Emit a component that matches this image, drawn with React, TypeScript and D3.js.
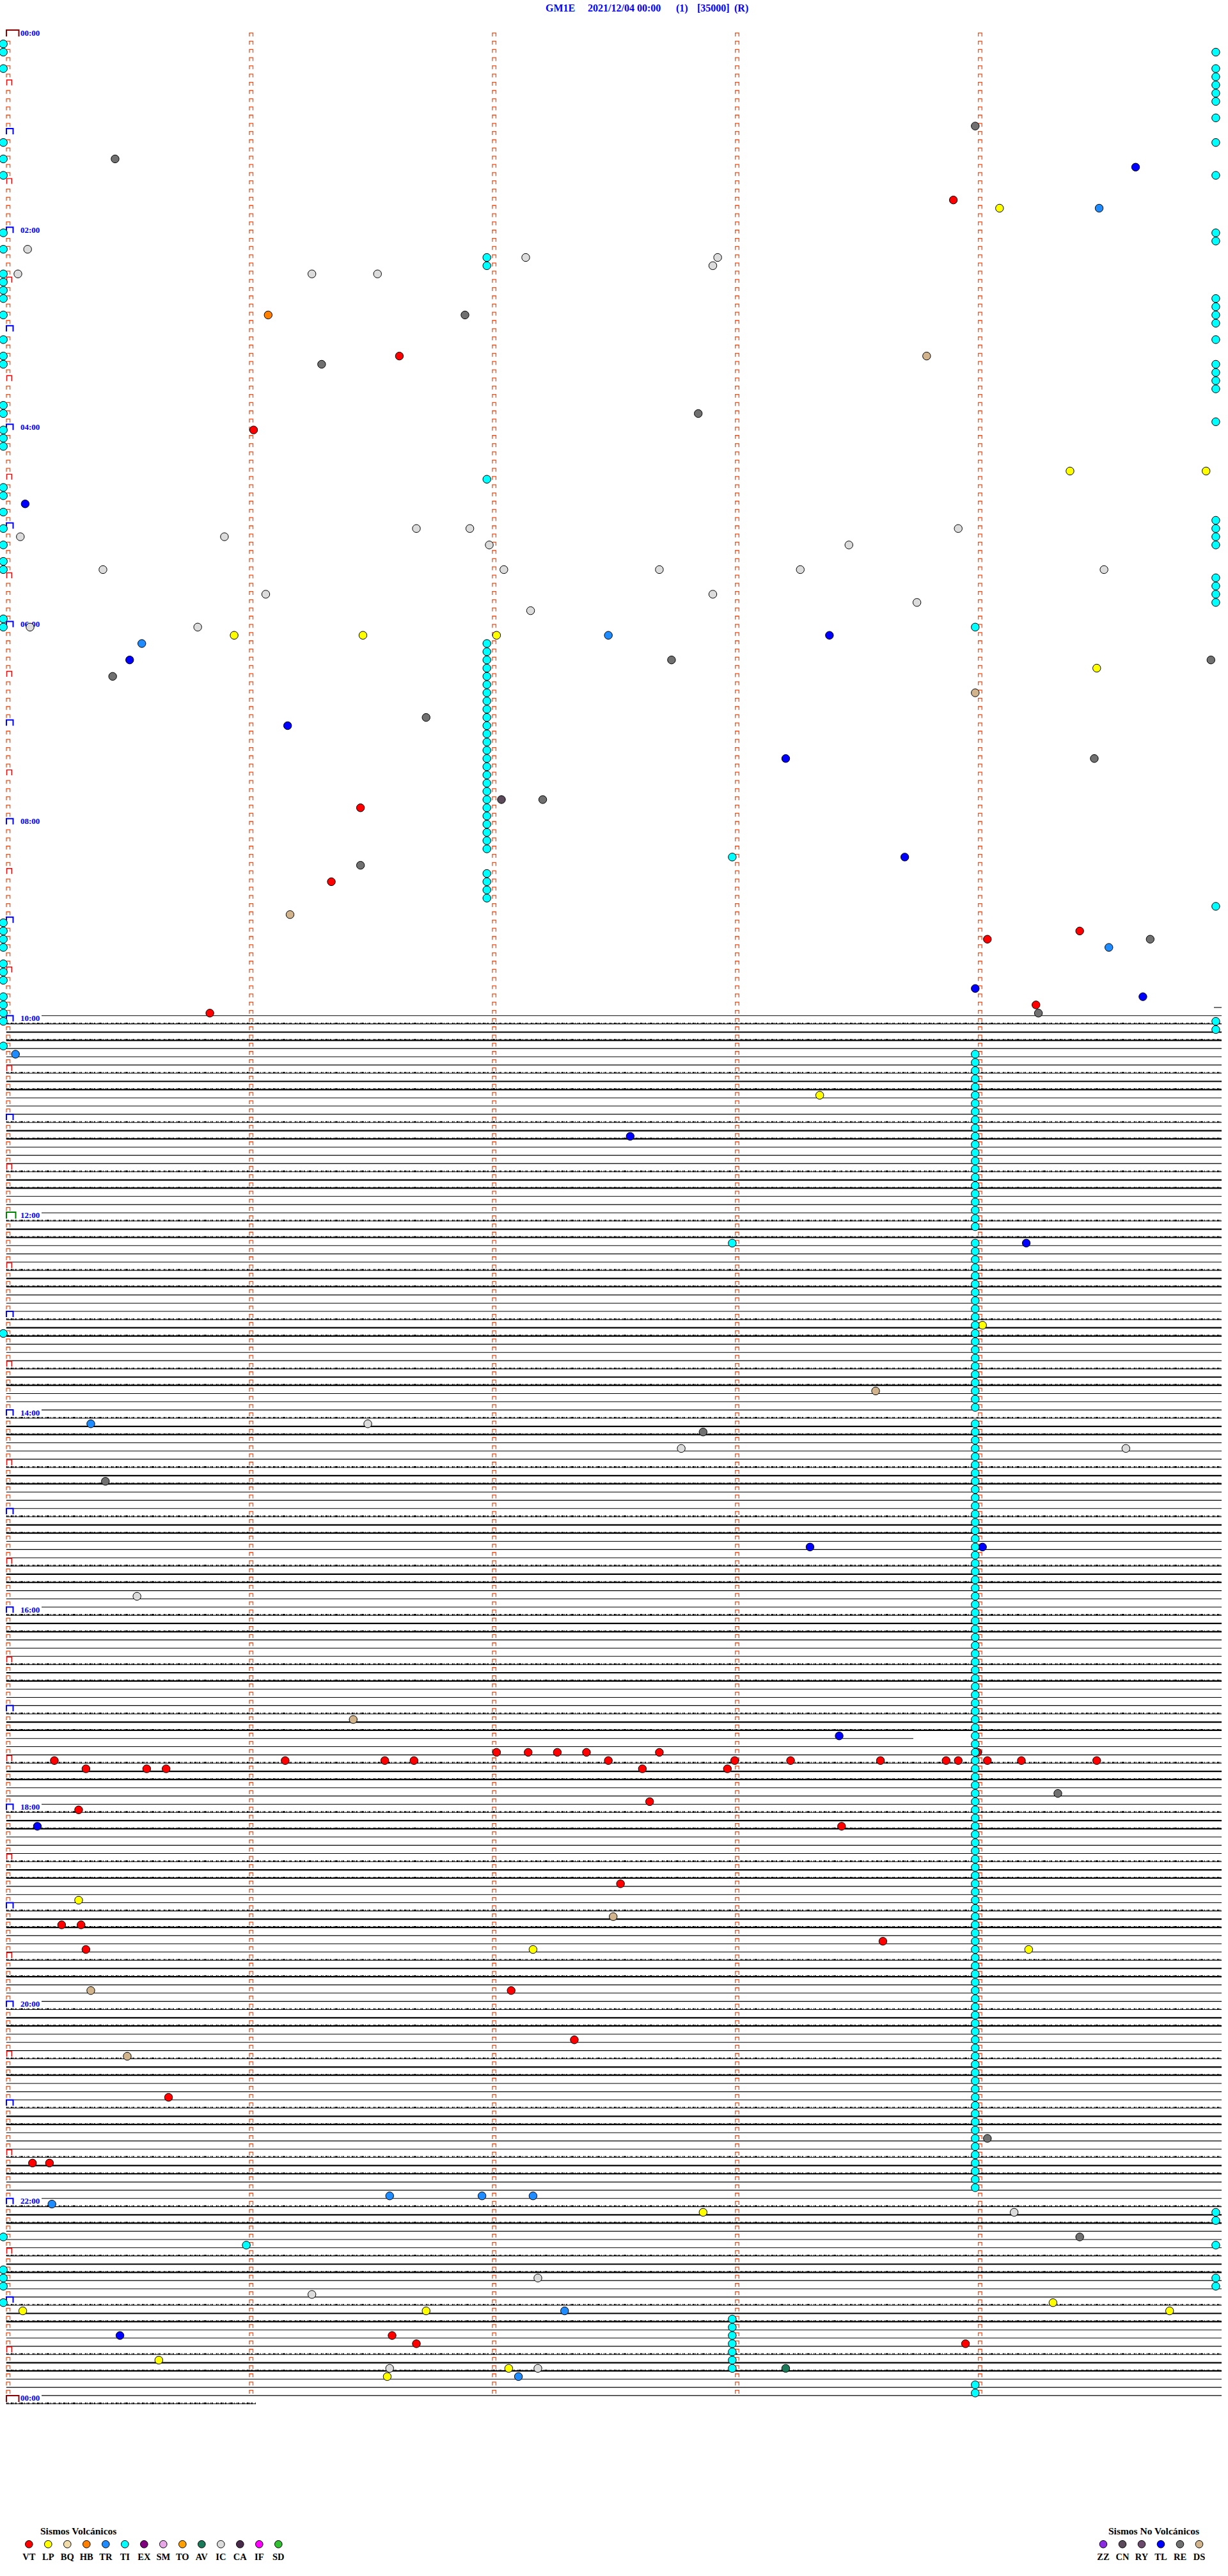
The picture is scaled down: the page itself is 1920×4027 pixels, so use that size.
import React from "react";
import * as d3 from "d3";

// ---------- DATA ----------
const HEADER = ["GM1E", "2021/12/04 00:00", "(1)", "[35000]", "(R)"];
const HEADER_X = [853, 919, 1057, 1090, 1148];

const VOLC_TYPES = ["VT", "LP", "BQ", "HB", "TR", "TI", "EX", "SM", "TO", "AV", "IC", "CA", "IF", "SD"];
const VOLC_COLORS = ["#ff0000", "#ffff00", "#efdca8", "#ff8000", "#1e8cff", "#00ffff", "#800080", "#e8a8e8", "#ffa000", "#1a7a5a", "#dcdcdc", "#4a2a4a", "#ff00ff", "#30c030"];
const NONVOLC_TYPES = ["ZZ", "CN", "RY", "TL", "RE", "DS"];
const NONVOLC_COLORS = ["#8a2be2", "#5a4a5a", "#6a4a6a", "#0000ff", "#707070", "#d2b48c"];

const HOUR_LABELS = ["00:00", "02:00", "04:00", "06:00", "08:00", "10:00", "12:00", "14:00", "16:00", "18:00", "20:00", "22:00", "00:00"];

// rows are 5-minute lines (0 = 00:00, 288 = 24:00); minute is position inside a row (0..5)
const TRACE_FIRST_ROW = 120;
const TRACE_LAST_ROW = 288;

// isolated events: [type, row, minute]
const EVENTS: [string, number, number][] = [
  ["RE", 16, 0.44], ["RE", 12, 3.98], ["TL", 17, 4.64], ["VT", 21, 3.89], ["LP", 22, 4.08], ["TR", 22, 4.49],
  ["IC", 27, 0.08], ["IC", 30, 0.04], ["TI", 28, 1.97], ["TI", 29, 1.97], ["IC", 28, 2.13], ["IC", 28, 2.92],
  ["IC", 29, 2.90], ["IC", 30, 1.25], ["IC", 30, 1.52], ["HB", 35, 1.07], ["RE", 35, 1.88], ["VT", 40, 1.61],
  ["RE", 41, 1.29], ["DS", 40, 3.78], ["RE", 47, 2.84], ["VT", 49, 1.01], ["LP", 54, 4.37], ["LP", 54, 4.93],
  ["TI", 55, 1.97], ["TL", 58, 0.07], ["IC", 62, 0.05], ["IC", 62, 0.89], ["IC", 61, 1.68], ["IC", 61, 1.90],
  ["IC", 63, 1.98], ["IC", 63, 3.46], ["IC", 61, 3.91], ["IC", 66, 0.39], ["IC", 66, 2.04], ["IC", 66, 2.68],
  ["IC", 66, 3.26], ["IC", 66, 4.51], ["IC", 69, 1.06], ["IC", 69, 2.90], ["IC", 70, 3.74], ["IC", 71, 2.15],
  ["IC", 73, 0.09], ["IC", 73, 0.78], ["TR", 75, 0.55], ["LP", 74, 0.93], ["LP", 74, 1.46], ["LP", 74, 2.01],
  ["TR", 74, 2.47], ["TL", 74, 3.38], ["TI", 73, 3.98], ["TL", 77, 0.50], ["RE", 79, 0.43], ["RE", 77, 2.73],
  ["RE", 77, 4.95], ["LP", 78, 4.48], ["DS", 81, 3.98], ["TL", 85, 1.15], ["RE", 84, 1.72], ["RE", 89, 4.47],
  ["TL", 89, 3.20], ["CN", 94, 2.03], ["RE", 94, 2.20], ["VT", 95, 1.45], ["RE", 102, 1.45], ["VT", 104, 1.33],
  ["TI", 101, 2.98], ["TL", 101, 3.69], ["DS", 108, 1.16], ["VT", 111, 4.03], ["VT", 110, 4.41], ["TR", 112, 4.53],
  ["RE", 111, 4.70], ["TL", 117, 3.98], ["TL", 118, 4.67], ["VT", 119, 4.23], ["RE", 120, 4.24], ["VT", 120, 0.83],
  ["TR", 125, 0.03], ["LP", 130, 3.34], ["TL", 135, 2.56], ["TI", 148, 2.98], ["TL", 148, 4.19], ["LP", 158, 4.01],
  ["DS", 166, 3.57], ["TR", 170, 0.34], ["IC", 170, 1.48], ["RE", 171, 2.86], ["IC", 173, 2.77], ["IC", 173, 4.60],
  ["RE", 177, 0.40], ["TL", 185, 3.30], ["TL", 185, 4.01], ["IC", 191, 0.53], ["DS", 206, 1.42], ["TL", 208, 3.42],
  ["VT", 210, 3.99],
  ["VT", 211, 0.19], ["VT", 211, 1.14], ["VT", 211, 1.55], ["VT", 211, 1.67], ["VT", 210, 2.01], ["VT", 210, 2.14],
  ["VT", 210, 2.26], ["VT", 210, 2.38], ["VT", 211, 2.47], ["VT", 210, 2.68], ["VT", 211, 2.99], ["VT", 211, 3.22],
  ["VT", 211, 3.59], ["VT", 211, 3.86], ["VT", 211, 3.91], ["VT", 211, 4.03], ["VT", 211, 4.17], ["VT", 211, 4.48],
  ["VT", 212, 0.32], ["VT", 212, 0.57], ["VT", 212, 0.65], ["VT", 212, 2.61], ["VT", 212, 2.96],
  ["RE", 215, 4.32], ["VT", 216, 2.64], ["VT", 217, 0.29], ["TL", 219, 0.12], ["VT", 219, 3.43], ["VT", 226, 2.52],
  ["LP", 228, 0.29], ["DS", 230, 2.49], ["VT", 231, 0.22], ["VT", 231, 0.30], ["VT", 233, 3.60], ["VT", 234, 0.32],
  ["LP", 234, 2.16], ["LP", 234, 4.20], ["DS", 239, 0.34], ["VT", 239, 2.07], ["VT", 245, 2.33], ["DS", 247, 0.49],
  ["VT", 252, 0.66], ["RE", 257, 4.03], ["VT", 260, 0.10], ["VT", 260, 0.17], ["TR", 264, 1.57], ["TR", 264, 1.95],
  ["TR", 264, 2.16], ["TR", 265, 0.18], ["LP", 266, 2.86], ["IC", 266, 4.14], ["RE", 269, 4.41], ["TI", 270, 0.98],
  ["IC", 274, 2.18], ["IC", 276, 1.25], ["LP", 278, 0.06], ["LP", 277, 4.30], ["LP", 278, 4.78], ["LP", 278, 1.72],
  ["TR", 278, 2.29], ["TL", 281, 0.46], ["VT", 281, 1.58], ["VT", 282, 1.68], ["VT", 282, 3.94], ["LP", 284, 0.62],
  ["IC", 285, 1.57], ["LP", 286, 1.56], ["LP", 285, 2.06], ["IC", 285, 2.18], ["TR", 286, 2.10], ["AV", 285, 3.20],
];

// tremor-like TI events stacked in columns (rows)
const TI_LEFT_ROWS = [2, 3, 5, 14, 16, 18, 25, 27, 30, 31, 32, 33, 35, 38, 40, 41, 46, 47, 49, 50, 51, 56, 57, 59, 61, 63, 65, 66, 72, 73, 109, 110, 111, 112, 114, 115, 116, 118, 119, 120, 121, 124, 159, 269, 273, 274, 275, 277];
const TI_RIGHT_ROWS = [3, 5, 6, 7, 8, 9, 11, 14, 18, 25, 26, 33, 34, 35, 36, 38, 41, 42, 43, 44, 48, 60, 61, 62, 63, 67, 68, 69, 70, 107, 121, 122, 266, 267, 270, 274, 275];
const TI_COL2_ROWS = [75, 76, 77, 78, 79, 80, 81, 82, 83, 84, 85, 86, 87, 88, 89, 90, 91, 92, 93, 94, 95, 96, 97, 98, 99, 100, 103, 104, 105, 106];
const TI_COL3_ROWS = [279, 280, 281, 282, 283, 284, 285];
const TI_COL4_ROWS = [
  125, 126, 127, 128, 129, 130, 131, 132, 133, 134, 135, 136, 137, 138, 139, 140, 141, 142, 143, 144, 145, 146,
  148, 149, 150, 151, 152, 153, 154, 155, 156, 157, 158, 159, 160, 161, 162, 163, 164, 165, 166, 167, 168,
  170, 171, 172, 173, 174, 175, 176, 177, 178, 179, 180, 181, 182, 183, 184, 185, 186, 187, 188, 189, 190, 191,
  192, 193, 194, 195, 196, 197, 198, 199, 200, 201, 202, 203, 204, 205, 206, 207, 208, 209, 210, 211, 212, 213,
  214, 215, 216, 217, 218, 219, 220, 221, 222, 223, 224, 225, 226, 227, 228, 229, 230, 231, 232, 233, 234, 235,
  236, 237, 238, 239, 240, 241, 242, 243, 244, 245, 246, 247, 248, 249, 250, 251, 252, 253, 254, 255, 256, 257,
  258, 259, 260, 261, 262, 263, 287, 288,
];
const TI_COL_MINUTES = { left: -0.02, right: 4.97, c2: 1.97, c3: 2.98, c4: 3.98 };

// ---------- COMPONENT ----------
const W = 1920;
const H = 4027;
const NOISE_DASH = "2 1 1 3 3 1 1 2 2 4 1 1 4 2 1 3 1 1 2 5";

export default function App() {
  const x = d3.scaleLinear().domain([0, 5]).range([12.8, 1912.3]);
  const y = d3.scaleLinear().domain([0, 288]).range([47, 47 + 288 * 12.84]);
  const colorOf: Record<string, string> = {};
  VOLC_TYPES.forEach((t, i) => (colorOf[t] = VOLC_COLORS[i]));
  NONVOLC_TYPES.forEach((t, i) => (colorOf[t] = NONVOLC_COLORS[i]));

  const allEvents: [string, number, number][] = [
    ...TI_LEFT_ROWS.map((r) => ["TI", r, TI_COL_MINUTES.left] as [string, number, number]),
    ...TI_RIGHT_ROWS.map((r) => ["TI", r, TI_COL_MINUTES.right] as [string, number, number]),
    ...TI_COL2_ROWS.map((r) => ["TI", r, TI_COL_MINUTES.c2] as [string, number, number]),
    ...TI_COL3_ROWS.map((r) => ["TI", r, TI_COL_MINUTES.c3] as [string, number, number]),
    ...EVENTS,
    ...TI_COL4_ROWS.map((r) => ["TI", r, TI_COL_MINUTES.c4] as [string, number, number]),
  ];

  const rows = d3.range(0, 289);
  const traceRows = d3.range(TRACE_FIRST_ROW, TRACE_LAST_ROW + 1);
  const xStart = x.range()[0] - 3;
  const xEnd = 1910;

  const segsFor = (r: number): [number, number][] => {
    const labeled = r % 24 === 0;
    const s = labeled ? 65 : xStart;
    if (r === 208) return [[s, 1428], [1530, xEnd]];
    return [[s, xEnd]];
  };

  const traceLine = (r: number, a: number, b: number, key: string) => {
    const yy = y(r);
    const kind = r % 6;
    const thick = kind === 2 || kind === 3;
    const noisy = kind === 1 || kind === 3;
    return (
      <g key={key}>
        <line x1={a} x2={b} y1={yy} y2={yy} stroke="#000" strokeWidth={thick ? 2.2 : 1.1} />
        {noisy && (
          <line x1={a} x2={b} y1={yy - 0.8} y2={yy - 0.8} stroke="#000" strokeWidth={2.4} strokeDasharray={NOISE_DASH} />
        )}
      </g>
    );
  };

  const markerPath = (cx: number, r: number) => {
    const t = y(r) + 4.6;
    return `M${cx - 2.8},${t + 5.3}V${t}H${cx + 2.8}V${t + 5.3}`;
  };

  const cols = [0, 1, 2, 3, 4];

  return (
    <svg width={W} height={H} style={{ position: "absolute", left: 0, top: 0, background: "#fff" }} fontFamily="'Liberation Serif', 'Times New Roman', serif">
      <rect width={W} height={H} fill="#fff" />
      {/* header */}
      {HEADER.map((t, i) => (
        <text key={t} x={HEADER_X[i]} y={18} fontSize={16} fontWeight="bold" fill="#0000ff">{t}</text>
      ))}

      {/* traces */}
      {traceRows.map((r) => segsFor(r).map(([a, b], k) => traceLine(r, a, b, `t${r}-${k}`)))}
      {traceLine(119, 1898, xEnd, "t119")}
      {traceLine(289, xStart, 400, "t289")}

      {/* minute markers */}
      <g fill="none" stroke="#ff4a10" strokeWidth={1.3}>
        {rows.slice(0, 288).map((r) =>
          cols.map((c) => {
            if (c === 0 && r % 6 === 0) return null;
            return <path key={`m${r}-${c}`} d={markerPath(x(c), r)} />;
          })
        )}
      </g>

      {/* hour / half hour brackets */}
      <g fill="none">
        {rows.map((r) => {
          if (r % 6 !== 0) return null;
          const yy = y(r);
          if (r === 0 || r === 288)
            return <path key={`b${r}`} d={`M10,${yy + 10}V${yy}H29.5V${yy + 10}`} stroke="#8b0000" strokeWidth={2} />;
          if (r === 144)
            return <path key={`b${r}`} d={`M10,${yy + 9}V${yy - 1}H24.5V${yy + 9}`} stroke="#008000" strokeWidth={2} />;
          if (r % 12 === 0)
            return <path key={`b${r}`} d={`M10,${yy + 9}V${yy}H20.5V${yy + 9}`} stroke="#0000ff" strokeWidth={2} />;
          return <path key={`b${r}`} d={`M10.5,${yy + 9.5}V${yy + 1}H18.3V${yy + 9.5}`} stroke="#ff0000" strokeWidth={1.4} />;
        })}
      </g>
      {HOUR_LABELS.map((l, i) => (
        <text key={`h${i}`} x={32} y={y(i * 24) + 8.5} fontSize={13} fontWeight="bold" fill="#0000ff">{l}</text>
      ))}

      {/* events */}
      <g stroke="#000" strokeWidth={1}>
        {allEvents.map(([t, r, m], i) => (
          <circle key={`e${i}`} cx={x(m)} cy={y(r) - 4} r={6.2} fill={colorOf[t]} />
        ))}
      </g>

      {/* legends */}
      <text x={63} y={3962} fontSize={15.5} fontWeight="bold" fill="#000">Sismos Volcánicos</text>
      {VOLC_TYPES.map((t, i) => (
        <g key={`lv${t}`}>
          <circle cx={45.3 + i * 30} cy={3977.3} r={5.8} fill={VOLC_COLORS[i]} stroke="#000" strokeWidth={1} />
          <text x={45.3 + i * 30} y={4001.5} fontSize={14.5} fontWeight="bold" textAnchor="middle" fill="#000">{t}</text>
        </g>
      ))}
      <text x={1733} y={3962} fontSize={15.5} fontWeight="bold" fill="#000">Sismos No Volcánicos</text>
      {NONVOLC_TYPES.map((t, i) => (
        <g key={`ln${t}`}>
          <circle cx={1725 + i * 30} cy={3977.3} r={5.8} fill={NONVOLC_COLORS[i]} stroke="#000" strokeWidth={1} />
          <text x={1725 + i * 30} y={4001.5} fontSize={14.5} fontWeight="bold" textAnchor="middle" fill="#000">{t}</text>
        </g>
      ))}
    </svg>
  );
}
